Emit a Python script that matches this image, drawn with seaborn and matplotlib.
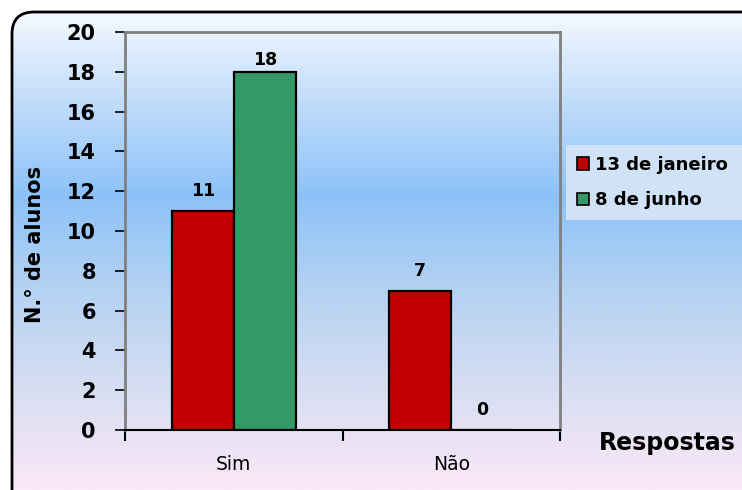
import numpy as np
import pandas as pd
import matplotlib
matplotlib.use("Agg")
import matplotlib.pyplot as plt
from matplotlib.patches import FancyBboxPatch, Patch
from matplotlib.colors import LinearSegmentedColormap
import seaborn as sns

# Survey answers on two dates
respostas = ["Sim", "Não"]
datas = ["13 de janeiro", "8 de junho"]
janeiro = [11, 7]
junho = [18, 0]
y_ticks = [0, 2, 4, 6, 8, 10, 12, 14, 16, 18, 20]

df = pd.DataFrame({
    "Resposta": respostas * 2,
    "Data": [datas[0]] * 2 + [datas[1]] * 2,
    "Alunos": janeiro + junho,
})

sns.set_theme(style="white")
plt.rcParams["font.family"] = ["DejaVu Sans"]
plt.rcParams.update({"text.color": "black", "axes.labelcolor": "black",
                     "xtick.color": "black", "ytick.color": "black"})

W, H = 742, 490
fig = plt.figure(figsize=(W / 100, H / 100), dpi=100)
fig.patch.set_facecolor("white")

# Vertical gradient background inside a rounded frame
bg = fig.add_axes([0, 0, 1, 1], zorder=0)
bg.set_xlim(0, W)
bg.set_ylim(H, 0)
bg.axis("off")
grad_cmap = LinearSegmentedColormap.from_list(
    "bg",
    [(0.0, "#fbfdff"), (0.2, "#c4defb"), (0.4, "#8cc2f8"),
     (0.6, "#b6d2f2"), (0.8, "#d8def2"), (1.0, "#fbe8f8")],
)
grad = np.linspace(0, 1, 256).reshape(-1, 1)
img = bg.imshow(grad, cmap=grad_cmap, aspect="auto", extent=[0, W, H, 0])
frame = FancyBboxPatch((12, 12), W + 40, H + 40,
                       boxstyle="round,pad=0,rounding_size=22",
                       facecolor="none", edgecolor="black", linewidth=2.0,
                       transform=bg.transData)
bg.add_patch(frame)
img.set_clip_path(frame)

ax = fig.add_axes([125 / W, 60 / H, 435 / W, 398 / H], zorder=1)
ax.set_facecolor("none")

palette = {datas[0]: "#c00000", datas[1]: "#339966"}
sns.barplot(data=df, x="Resposta", y="Alunos", hue="Data", order=respostas,
            hue_order=datas, palette=palette, width=0.57, saturation=1,
            edgecolor="black", linewidth=1.6, legend=False, ax=ax)

# Value labels; the tallest bar sits close to the top, so its label hugs the bar
ymax = 20
for cont in ax.containers:
    vals = [int(round(b.get_height())) for b in cont]
    near_top = [str(v) if v > 0.85 * ymax else "" for v in vals]
    others = [str(v) if v <= 0.85 * ymax else "" for v in vals]
    ax.bar_label(cont, labels=others, padding=8, fontsize=12.5,
                 fontweight="bold")
    ax.bar_label(cont, labels=near_top, padding=2, fontsize=12.5,
                 fontweight="bold")

ax.set_ylim(0, ymax)
ax.set_xlim(-0.5, 1.5)
ax.set_yticks(y_ticks)
ax.set_yticklabels([str(v) for v in y_ticks], fontsize=15, fontweight="bold")
ax.tick_params(axis="y", direction="out", length=7, width=1.2, color="black",
               left=True, pad=14)
ax.set_xticks([0, 1])
ax.set_xticklabels(respostas, fontsize=13.5)
ax.tick_params(axis="x", which="major", length=0, pad=18)
ax.set_xticks([-0.5, 0.5, 1.5], minor=True)
ax.tick_params(axis="x", which="minor", direction="out", length=8, width=1.5,
               color="black", bottom=True)

for side in ["left", "top", "right"]:
    ax.spines[side].set_color("#808080")
    ax.spines[side].set_linewidth(2)
ax.spines["bottom"].set_color("black")
ax.spines["bottom"].set_linewidth(1.5)

ax.set_ylabel("N.° de alunos", fontsize=15, fontweight="bold")
ax.yaxis.set_label_coords(-0.184, 0.467)
ax.set_xlabel("")
fig.text(667 / W, 1 - 443 / H, "Respostas", fontsize=17, fontweight="bold",
         ha="center", va="center")

handles = [Patch(facecolor=palette[d], edgecolor="black", linewidth=1.2)
           for d in datas]
leg = fig.legend(handles, datas, loc="upper left",
                 bbox_to_anchor=(566 / W, 1 - 145 / H, 180 / W, 0.0),
                 mode="expand", frameon=True,
                 fancybox=False, prop={"weight": "bold", "size": 13},
                 handlelength=0.65, handleheight=0.65, handletextpad=0.35,
                 labelspacing=0.95, borderpad=0.6, borderaxespad=0)
leg.get_frame().set_facecolor("#d0e2f6")
leg.get_frame().set_edgecolor("none")
leg.get_frame().set_alpha(1)
leg.set_zorder(5)

fig.savefig("out.png", dpi=100)
